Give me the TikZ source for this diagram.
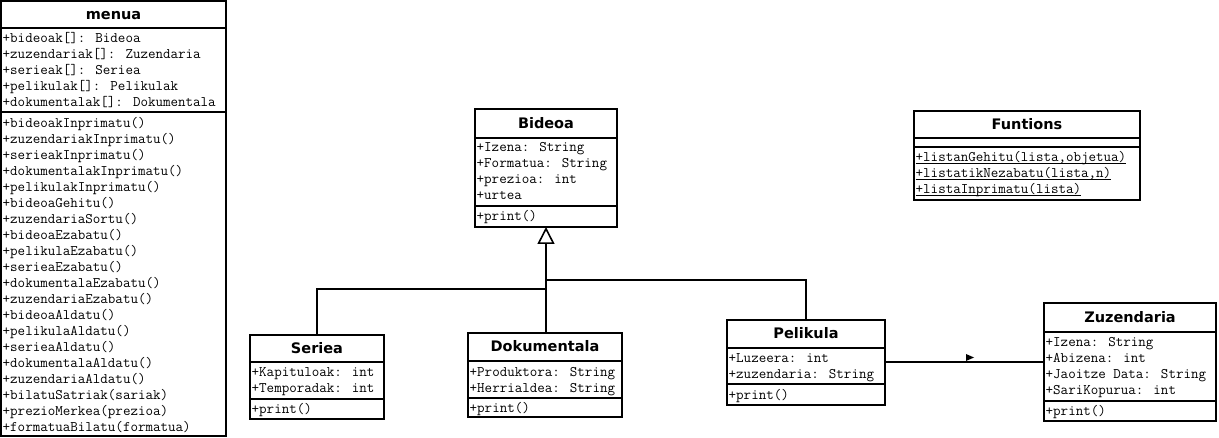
\documentclass[tikz,border=0pt]{standalone}
\usepackage{fontspec}
\newfontfamily\titlef{DejaVu Sans}
\usetikzlibrary{arrows.meta}
\newsavebox\ulbox
\newcommand\ulin[1]{\sbox\ulbox{#1}\rlap{\usebox\ulbox}\rule[-2.2bp]{\wd\ulbox}{0.9bp}}
\tikzset{
  box/.style={draw, line width=1.6bp, fill=white, inner sep=0pt, outer sep=0pt, anchor=north west},
  ttl/.style={font=\titlef\bfseries\fontsize{14.5bp}{16bp}\selectfont, inner sep=0pt, anchor=base},
  mem/.style={font=\ttfamily\fontsize{14.6bp}{16bp}\selectfont, inner sep=0pt, anchor=base west},
  sepline/.style={line width=1.6bp},
  link/.style={line width=1.6bp},
  inh/.style={link, -{Triangle[open, length=17bp, width=17bp, line width=1.6bp]}},
}
\begin{document}
\begin{tikzpicture}[x=1bp, y=-1bp]
\fill[white] (0,0) rectangle (1219,438);
\useasboundingbox (0,0) rectangle (1219,438);

% ---------------- menua ----------------
\node[box, minimum width=225bp, minimum height=435bp] (menua) at (1,1) {};
\draw[sepline] (1,28) -- (226,28);
\draw[sepline] (1,112) -- (226,112);
\node[ttl] (menua-t) at (113.5,19.5) {menua};
\node[mem] (ma1) at (2.5,42.5) {+bideoak[]: Bideoa};
\node[mem] (ma2) at (2.5,58.5) {+zuzendariak[]: Zuzendaria};
\node[mem] (ma3) at (2.5,74.5) {+serieak[]: Seriea};
\node[mem] (ma4) at (2.5,90.5) {+pelikulak[]: Pelikulak};
\node[mem] (ma5) at (2.5,106.5) {+dokumentalak[]: Dokumentala};
\node[mem] (mm1) at (2.5,127.5) {+bideoakInprimatu()};
\node[mem] (mm2) at (2.5,143.5) {+zuzendariakInprimatu()};
\node[mem] (mm3) at (2.5,159.5) {+serieakInprimatu()};
\node[mem] (mm4) at (2.5,175.5) {+dokumentalakInprimatu()};
\node[mem] (mm5) at (2.5,191.5) {+pelikulakInprimatu()};
\node[mem] (mm6) at (2.5,207.5) {+bideoaGehitu()};
\node[mem] (mm7) at (2.5,223.5) {+zuzendariaSortu()};
\node[mem] (mm8) at (2.5,239.5) {+bideoaEzabatu()};
\node[mem] (mm9) at (2.5,255.5) {+pelikulaEzabatu()};
\node[mem] (mm10) at (2.5,271.5) {+serieaEzabatu()};
\node[mem] (mm11) at (2.5,287.5) {+dokumentalaEzabatu()};
\node[mem] (mm12) at (2.5,303.5) {+zuzendariaEzabatu()};
\node[mem] (mm13) at (2.5,319.5) {+bideoaAldatu()};
\node[mem] (mm14) at (2.5,335.5) {+pelikulaAldatu()};
\node[mem] (mm15) at (2.5,351.5) {+serieaAldatu()};
\node[mem] (mm16) at (2.5,367.5) {+dokumentalaAldatu()};
\node[mem] (mm17) at (2.5,383.5) {+zuzendariaAldatu()};
\node[mem] (mm18) at (2.5,399.5) {+bilatuSatriak(sariak)};
\node[mem] (mm19) at (2.5,415.5) {+prezioMerkea(prezioa)};
\node[mem] (mm20) at (2.5,431.5) {+formatuaBilatu(formatua)};

% ---------------- Bideoa ----------------
\node[box, minimum width=142bp, minimum height=118bp] (bideoa) at (475,109) {};
\draw[sepline] (475,138) -- (617,138);
\draw[sepline] (475,206) -- (617,206);
\node[ttl] (bideoa-t) at (546,128.5) {Bideoa};
\node[mem] (ba1) at (476.5,151.5) {+Izena: String};
\node[mem] (ba2) at (476.5,167.5) {+Formatua: String};
\node[mem] (ba3) at (476.5,184) {+prezioa: int};
\node[mem] (ba4) at (476.5,200) {+urtea};
\node[mem] (bm1) at (476.5,220.5) {+print()};

% ---------------- Funtions ----------------
\node[box, minimum width=226bp, minimum height=89bp] (funtions) at (914,111) {};
\draw[sepline] (914,138) -- (1140,138);
\draw[sepline] (914,147) -- (1140,147);
\node[ttl] (funtions-t) at (1027,129.5) {Funtions};
\node[mem] (fm1) at (915.5,162) {\ulin{+listanGehitu(lista,objetua)}};
\node[mem] (fm2) at (915.5,178) {\ulin{+listatikNezabatu(lista,n)}};
\node[mem] (fm3) at (915.5,194) {\ulin{+listaInprimatu(lista)}};

% ---------------- Seriea ----------------
\node[box, minimum width=134bp, minimum height=84bp] (seriea) at (250,335) {};
\draw[sepline] (250,362) -- (384,362);
\draw[sepline] (250,399) -- (384,399);
\node[ttl] (seriea-t) at (317,353.5) {Seriea};
\node[mem] (sa1) at (251.5,376.5) {+Kapituloak: int};
\node[mem] (sa2) at (251.5,393) {+Temporadak: int};
\node[mem] (sm1) at (251.5,414) {+print()};

% ---------------- Dokumentala ----------------
\node[box, minimum width=154bp, minimum height=84bp] (doku) at (468,333) {};
\draw[sepline] (468,361) -- (622,361);
\draw[sepline] (468,398) -- (622,398);
\node[ttl] (doku-t) at (545,352) {Dokumentala};
\node[mem] (da1) at (469.5,376.5) {+Produktora: String};
\node[mem] (da2) at (469.5,392.5) {+Herrialdea: String};
\node[mem] (dm1) at (469.5,413) {+print()};

% ---------------- Pelikula ----------------
\node[box, minimum width=158bp, minimum height=85bp] (pelikula) at (727,320) {};
\draw[sepline] (727,348) -- (885,348);
\draw[sepline] (727,384) -- (885,384);
\node[ttl] (pelikula-t) at (806,339) {Pelikula};
\node[mem] (pa1) at (728.5,362.5) {+Luzeera: int};
\node[mem] (pa2) at (728.5,379) {+zuzendaria: String};
\node[mem] (pm1) at (728.5,399.5) {+print()};

% ---------------- Zuzendaria ----------------
\node[box, minimum width=172bp, minimum height=118bp] (zuz) at (1044,303) {};
\draw[sepline] (1044,332) -- (1216,332);
\draw[sepline] (1044,401) -- (1216,401);
\node[ttl] (zuz-t) at (1130,322.5) {Zuzendaria};
\node[mem] (za1) at (1045.5,346.5) {+Izena: String};
\node[mem] (za2) at (1045.5,362.5) {+Abizena: int};
\node[mem] (za3) at (1045.5,379) {+Jaoitze Data: String};
\node[mem] (za4) at (1045.5,395) {+SariKopurua: int};
\node[mem] (zm1) at (1045.5,415.5) {+print()};

% ---------------- connectors ----------------
\coordinate (jtop) at (546,280);
\coordinate (jbot) at (546,289);
\draw[inh] (doku.north -| jtop) -- (bideoa.south -| jtop);
\draw[link] (seriea.north) |- (jbot);
\draw[link] (pelikula.north) |- (jtop);
\draw[link] (pelikula.east |- zuz.west) -- (zuz.west);
\coordinate (dir) at (966,354);
\fill (dir) -- ++(8,3.5) -- ++(-8,3.5) -- cycle;
\end{tikzpicture}
\end{document}
